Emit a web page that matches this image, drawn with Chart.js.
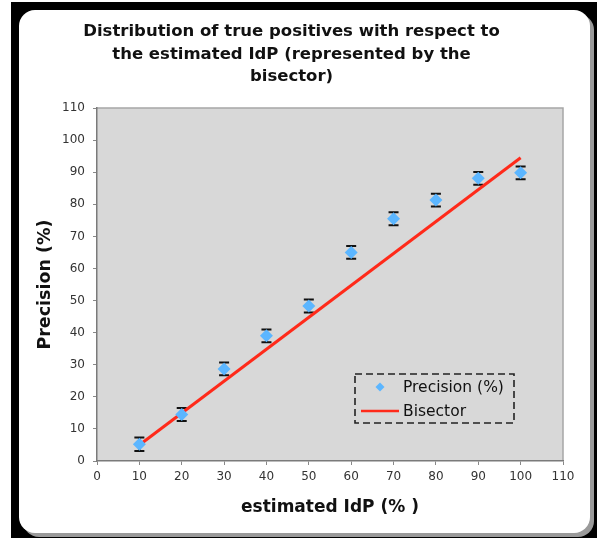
<!DOCTYPE html>
<html>
<head>
<meta charset="utf-8">
<script src="https://cdn.jsdelivr.net/npm/chart.js@4.4.0/dist/chart.umd.min.js"></script>
<style>
  html, body { margin: 0; padding: 0; background: #fff; }
  #wrap { position: relative; width: 598px; height: 538px; overflow: hidden; }
  #frame { position: absolute; left: 11px; top: 2px; width: 586px; height: 536px; background: #000; }
  #panel { position: absolute; left: 19px; top: 10px; width: 571px; height: 523px; background: #fff;
           border-radius: 16px; box-shadow: 4px 4px 0 #9a9a9a; }
  #c { position: absolute; left: 0; top: 0; }
</style>
</head>
<body>
<div id="wrap">
  <div id="frame"></div>
  <div id="panel"></div>
  <canvas id="c" width="598" height="538"></canvas>
</div>
<script>
// ---- data ----
const titleLines = ["Distribution of true positives with respect to", "the estimated IdP (represented by the", "bisector)"];
const xAxisTitle = "estimated IdP (% )";
const yAxisTitle = "Precision (%)";
const estimatedIdP = [10, 20, 30, 40, 50, 60, 70, 80, 90, 100];
const precision = [5.2, 14.5, 28.7, 39.0, 48.3, 65.0, 75.5, 81.3, 88.1, 89.8];
const precisionErr = [2.1, 2.0, 2.0, 2.0, 2.0, 2.0, 2.0, 2.0, 2.0, 2.0];
const bisectorX = [10, 100];
const bisectorY = [5, 94.5];
const axisMin = 0, axisMax = 110, axisStep = 10;

const precisionPoints = estimatedIdP.map((x, i) => ({ x: x, y: precision[i] }));
const bisectorPoints = bisectorX.map((x, i) => ({ x: x, y: bisectorY[i] }));

const FONT = "'DejaVu Sans', Verdana, sans-serif";

const plotBg = {
  id: 'plotBg',
  beforeDraw(chart) {
    const { ctx, chartArea: a } = chart;
    ctx.save();
    ctx.fillStyle = '#d8d8d8';
    ctx.fillRect(a.left, a.top, a.right - a.left, a.bottom - a.top);
    ctx.strokeStyle = '#a6a6a6';
    ctx.lineWidth = 1.5;
    ctx.beginPath();
    ctx.moveTo(a.left, a.top);
    ctx.lineTo(a.right, a.top);
    ctx.lineTo(a.right, a.bottom);
    ctx.stroke();
    ctx.restore();
  }
};

const errorBars = {
  id: 'errorBars',
  beforeDatasetsDraw(chart) {
    const { ctx, scales: { x, y } } = chart;
    ctx.save();
    ctx.strokeStyle = '#111';
    ctx.lineWidth = 2;
    estimatedIdP.forEach((xv, i) => {
      const px = x.getPixelForValue(xv);
      const top = y.getPixelForValue(precision[i] + precisionErr[i]);
      const bot = y.getPixelForValue(precision[i] - precisionErr[i]);
      ctx.beginPath();
      ctx.moveTo(px, top); ctx.lineTo(px, bot);
      ctx.moveTo(px - 5, top); ctx.lineTo(px + 5, top);
      ctx.moveTo(px - 5, bot); ctx.lineTo(px + 5, bot);
      ctx.stroke();
    });
    ctx.restore();
  }
};

const dashedLegend = {
  id: 'dashedLegend',
  afterDraw(chart) {
    const { ctx } = chart;
    const ds = chart.data.datasets;
    const bx = 355, by = 374, bw = 159, bh = 49;
    ctx.save();
    ctx.strokeStyle = '#222';
    ctx.lineWidth = 1.6;
    ctx.setLineDash([7, 4]);
    ctx.strokeRect(bx, by, bw, bh);
    ctx.setLineDash([]);
    ctx.font = "15.5px " + FONT;
    ctx.textBaseline = 'middle';
    ctx.textAlign = 'left';
    const y1 = by + 13, y2 = by + 37;
    ctx.fillStyle = ds[0].backgroundColor;
    ctx.beginPath();
    const cx = bx + 25, r = 4.5;
    ctx.moveTo(cx, y1 - r); ctx.lineTo(cx + r, y1); ctx.lineTo(cx, y1 + r); ctx.lineTo(cx - r, y1); ctx.closePath();
    ctx.fill();
    ctx.fillStyle = '#111';
    ctx.fillText(ds[0].label, bx + 48, y1 + 1);
    ctx.strokeStyle = ds[1].borderColor;
    ctx.lineWidth = 2.5;
    ctx.beginPath();
    ctx.moveTo(bx + 6, y2); ctx.lineTo(bx + 44, y2);
    ctx.stroke();
    ctx.fillText(ds[1].label, bx + 48, y2 + 1);
    ctx.restore();
  }
};

new Chart(document.getElementById('c'), {
  type: 'scatter',
  data: {
    datasets: [
      {
        label: 'Precision (%)',
        data: precisionPoints,
        backgroundColor: '#5cb6ff',
        borderColor: '#5cb6ff',
        pointStyle: 'rectRot',
        pointRadius: 6.5,
        pointBorderWidth: 0,
        showLine: false,
        order: 0
      },
      {
        label: 'Bisector',
        data: bisectorPoints,
        borderColor: '#ff2a1a',
        backgroundColor: '#ff2a1a',
        borderWidth: 3,
        showLine: true,
        pointRadius: 0,
        order: 1
      }
    ]
  },
  options: {
    responsive: false,
    animation: false,
    devicePixelRatio: 1,
    layout: { padding: { left: 20, right: 35, top: 10.75, bottom: 10 } },
    plugins: {
      legend: { display: false },
      tooltip: { enabled: false },
      title: {
        display: true,
        text: titleLines,
        color: '#111',
        font: { family: FONT, size: 16.5, weight: 'bold', lineHeight: 1.364 },
        padding: { top: 10, bottom: 19.75 }
      }
    },
    scales: {
      x: {
        type: 'linear',
        min: axisMin, max: axisMax,
        afterFit(s) { s.height = 67; },
        ticks: { stepSize: axisStep, color: '#333', font: { family: FONT, size: 12 }, padding: 5, maxRotation: 0 },
        grid: { drawOnChartArea: false, drawTicks: true, tickLength: 4, color: '#888' },
        border: { color: '#7a7a7a', width: 1.5 },
        title: { display: true, text: xAxisTitle, color: '#111', font: { family: FONT, size: 17, weight: 'bold' }, padding: { top: 0, bottom: 9.8 } }
      },
      y: {
        type: 'linear',
        min: axisMin, max: axisMax,
        afterFit(s) { s.width = 77; },
        ticks: { stepSize: axisStep, color: '#333', font: { family: FONT, size: 12 }, padding: 8 },
        grid: { drawOnChartArea: false, drawTicks: true, tickLength: 4, color: '#888' },
        border: { color: '#7a7a7a', width: 1.5 },
        title: { display: true, text: yAxisTitle, color: '#111', font: { family: FONT, size: 17.5, weight: 'bold' }, padding: { top: 15, bottom: 0 } }
      }
    }
  },
  plugins: [plotBg, errorBars, dashedLegend]
});
</script>
</body>
</html>
